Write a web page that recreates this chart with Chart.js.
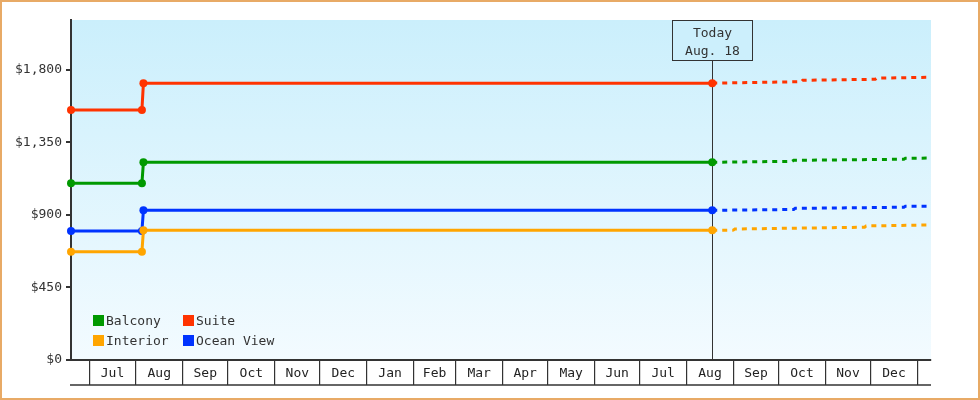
<!DOCTYPE html>
<html>
<head>
<meta charset="utf-8">
<script src="https://cdn.jsdelivr.net/npm/chart.js@4.4.1/dist/chart.umd.min.js"></script>
<style>
  html, body { margin: 0; padding: 0; background: #fff; }
  #wrap { width: 980px; height: 400px; position: relative; }
</style>
</head>
<body>
<div id="wrap"><canvas id="c" width="980" height="400"></canvas></div>
<script>
// ---------- DATA ----------
const seriesNames = ['Balcony', 'Suite', 'Interior', 'Ocean View'];
const monthLabels = ['Jul','Aug','Sep','Oct','Nov','Dec','Jan','Feb','Mar','Apr','May','Jun','Jul','Aug','Sep','Oct','Nov','Dec'];
const yTickValues = [0, 450, 900, 1350, 1800];
const todayDate = '2018-08-18';
const todayLines = ['Today', 'Aug. 18'];
const rangeStart = '2017-06-19';
const rangeEnd = '2019-01-10';
const firstMonth = '2017-07-01';

const histDates = ['2017-06-19', '2017-08-05', '2017-08-06', '2018-08-18'];
const balconyHist  = [1097, 1097, 1227, 1227];
const suiteHist    = [1552, 1552, 1718, 1718];
const interiorHist = [672, 672, 805, 805];
const oceanHist    = [801, 801, 929, 929];

const balconyForeDates  = ['2018-10-10', '2018-10-11', '2018-12-23', '2018-12-24', '2019-01-10'];
const balconyFore       = [1233, 1239, 1246, 1252, 1253];
const suiteForeDates    = ['2018-10-16', '2018-10-17', '2018-12-04', '2018-12-05', '2019-01-10'];
const suiteFore         = [1727, 1736, 1742, 1749, 1755];
const interiorForeDates = ['2018-09-01', '2018-09-02', '2018-11-27', '2018-11-28', '2019-01-10'];
const interiorFore      = [806, 813, 824, 832, 838];
const oceanForeDates    = ['2018-10-11', '2018-10-12', '2018-12-23', '2018-12-24', '2019-01-10'];
const oceanFore         = [934, 941, 948, 954, 955];

const seriesColors = ['#009900', '#FF3300', '#FFA500', '#0033FF'];

// ---------- HELPERS ----------
const DAY = 86400000;
function toUTC(s) { const p = s.split('-').map(Number); return Date.UTC(p[0], p[1]-1, p[2]); }
const origin = toUTC(firstMonth);
function dayNum(s) { return (toUTC(s) - origin) / DAY; }

// month boundaries and midpoints
const boundaries = [];
const mids = [];
{
  const p = firstMonth.split('-').map(Number);
  for (let i = 0; i <= monthLabels.length; i++) {
    boundaries.push((Date.UTC(p[0], p[1]-1+i, 1) - origin) / DAY);
  }
  for (let i = 0; i < monthLabels.length; i++) mids.push((boundaries[i] + boundaries[i+1]) / 2);
}
const boundarySet = new Set(boundaries);
const midLabel = new Map(mids.map((m, i) => [m, monthLabels[i]]));
const xTickValues = boundaries.concat(mids).sort((a, b) => a - b);

function build(hist, foreDates, fore) {
  const pts = histDates.map((d, i) => ({ x: dayNum(d), y: hist[i], f: false }));
  foreDates.forEach((d, i) => pts.push({ x: dayNum(d), y: fore[i], f: true }));
  return pts;
}
const allData = [
  build(balconyHist, balconyForeDates, balconyFore),
  build(suiteHist, suiteForeDates, suiteFore),
  build(interiorHist, interiorForeDates, interiorFore),
  build(oceanHist, oceanForeDates, oceanFore)
];
const lastHistIdx = histDates.length - 1;

const FONT = '"DejaVu Sans Mono", "Liberation Mono", monospace';
const INK = '#333333';

// ---------- PLUGINS ----------
const frame = {
  id: 'frame',
  beforeDraw(chart) {
    const { ctx, chartArea: a } = chart;
    ctx.save();
    ctx.fillStyle = '#ffffff';
    ctx.fillRect(0, 0, chart.width, chart.height);
    const g = ctx.createLinearGradient(0, a.top, 0, a.bottom);
    g.addColorStop(0, '#CBEFFC');
    g.addColorStop(1, '#F3FBFF');
    ctx.fillStyle = g;
    ctx.fillRect(a.left, a.top, a.right - a.left, a.bottom - a.top);
    ctx.strokeStyle = '#E8AA66';
    ctx.lineWidth = 2;
    ctx.strokeRect(1, 1, chart.width - 2, chart.height - 2);
    ctx.restore();
  },
  beforeDatasetsDraw(chart) {
    const { ctx, chartArea: a, scales } = chart;
    const x = Math.round(scales.x.getPixelForValue(dayNum(todayDate))) + 0.5;
    ctx.save();
    ctx.strokeStyle = INK;
    ctx.lineWidth = 1;
    ctx.beginPath();
    ctx.moveTo(x, a.top + 40);
    ctx.lineTo(x, a.bottom);
    ctx.stroke();
    ctx.restore();
  },
  afterDraw(chart) {
    const { ctx, chartArea: a, scales } = chart;
    ctx.save();
    // bottom line of the month band
    ctx.strokeStyle = INK;
    ctx.lineWidth = 1.5;
    ctx.beginPath();
    ctx.moveTo(a.left - 1, a.bottom + 25);
    ctx.lineTo(a.right, a.bottom + 25);
    ctx.stroke();
    // today box
    const x = Math.round(scales.x.getPixelForValue(dayNum(todayDate))) + 0.5;
    const w = 80, h = 40;
    ctx.fillStyle = '#CCEFFC';
    ctx.fillRect(x - w/2, a.top + 0.5, w, h);
    ctx.lineWidth = 1;
    ctx.strokeRect(x - w/2, a.top + 0.5, w, h);
    ctx.fillStyle = INK;
    ctx.font = '13px ' + FONT;
    ctx.textAlign = 'center';
    ctx.textBaseline = 'middle';
    ctx.fillText(todayLines[0], x, a.top + 13.5);
    ctx.fillText(todayLines[1], x, a.top + 31.5);
    // legend (2 columns)
    const ds = chart.data.datasets;
    ctx.textAlign = 'left';
    ds.forEach((d, i) => {
      const col = i % 2, row = Math.floor(i / 2);
      const lx = a.left + 22 + col * 90;
      const ly = a.top + 295 + row * 20;
      ctx.fillStyle = d.borderColor;
      ctx.fillRect(lx, ly, 11, 11);
      ctx.fillStyle = INK;
      ctx.fillText(d.label, lx + 13, ly + 6.5);
    });
    ctx.restore();
  }
};

// ---------- CHART ----------
new Chart(document.getElementById('c'), {
  type: 'line',
  data: {
    datasets: seriesNames.map((name, i) => ({
      label: name,
      data: allData[i],
      borderColor: seriesColors[i],
      backgroundColor: seriesColors[i],
      borderWidth: 3,
      clip: false,
      pointRadius: (c) => (c.raw && c.raw.f) ? 0 : 4,
      pointHoverRadius: 0,
      pointBorderWidth: 0,
      tension: 0,
      fill: false,
      segment: {
        borderDash: (c) => c.p0DataIndex >= lastHistIdx ? [5, 5] : undefined
      }
    }))
  },
  plugins: [frame],
  options: {
    responsive: false,
    animation: false,
    events: [],
    layout: { padding: { top: 20, right: 49, left: 0, bottom: 0 } },
    plugins: { legend: { display: false }, tooltip: { enabled: false } },
    scales: {
      x: {
        type: 'linear',
        min: dayNum(rangeStart),
        max: dayNum(rangeEnd),
        afterBuildTicks: (s) => { s.ticks = xTickValues.map(v => ({ value: v })); },
        afterFit: (s) => { s.height = 40; },
        grid: {
          drawOnChartArea: false,
          drawTicks: true,
          tickLength: 25,
          lineWidth: 1.2,
          color: (c) => (c.tick && boundarySet.has(c.tick.value)) ? INK : 'rgba(0,0,0,0)'
        },
        border: { display: true, color: INK, width: 2 },
        ticks: {
          autoSkip: false,
          maxRotation: 0,
          minRotation: 0,
          padding: -19,
          color: '#222',
          font: { family: FONT, size: 13 },
          callback: (v) => midLabel.has(v) ? midLabel.get(v) : ''
        }
      },
      y: {
        type: 'linear',
        min: 0,
        max: 2110,
        afterBuildTicks: (s) => { s.ticks = yTickValues.map(v => ({ value: v })); },
        afterFit: (s) => { s.width = 71; },
        grid: {
          drawOnChartArea: false,
          drawTicks: true,
          tickLength: 5,
          lineWidth: 2,
          color: INK
        },
        border: { display: true, color: INK, width: 2 },
        ticks: {
          padding: 4,
          color: INK,
          font: { family: FONT, size: 13 },
          callback: (v) => '$' + v.toLocaleString('en-US')
        }
      }
    }
  }
});
</script>
</body>
</html>
